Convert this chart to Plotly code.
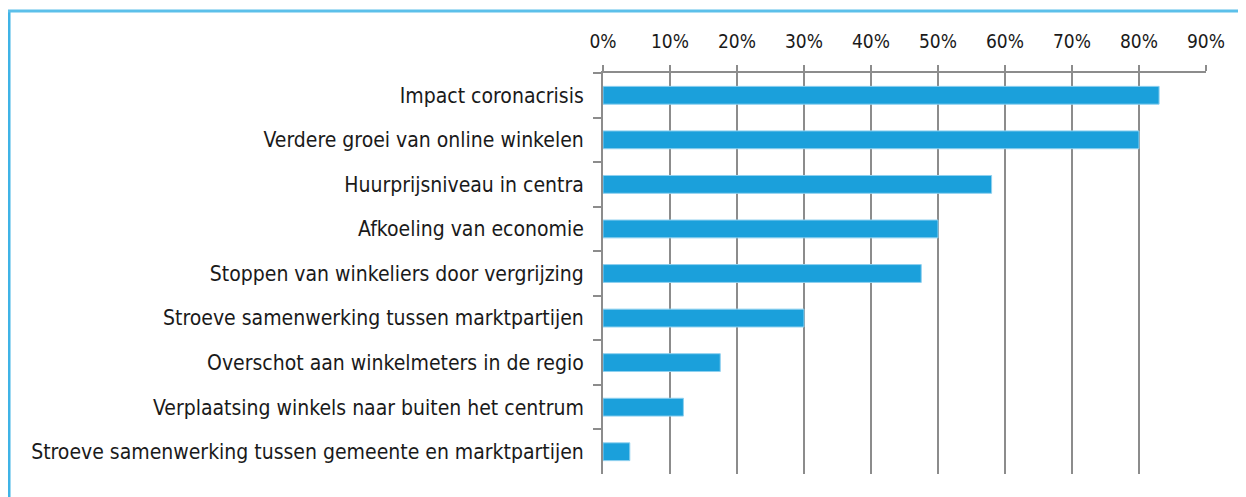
import plotly.graph_objects as go

categories = [
    "Impact coronacrisis",
    "Verdere groei van online winkelen",
    "Huurprijsniveau in centra",
    "Afkoeling van economie",
    "Stoppen van winkeliers door vergrijzing",
    "Stroeve samenwerking tussen marktpartijen",
    "Overschot aan winkelmeters in de regio",
    "Verplaatsing winkels naar buiten het centrum",
    "Stroeve samenwerking tussen gemeente en marktpartijen",
]
values = [83, 80, 58, 50, 47.5, 30, 17.5, 12, 4]
tick_values = [0, 10, 20, 30, 40, 50, 60, 70, 80, 90]
tick_labels = ["0%", "10%", "20%", "30%", "40%", "50%", "60%", "70%", "80%", "90%"]

FONT = "DejaVu Sans Condensed, DejaVu Sans, sans-serif"
GRID = "#8c8c8c"
TEXT = "#1a1a1a"

# the page body adds an 8px offset; figure is sized to fill the rest
W, H = 1238, 489
OFF = 8
L, T = 603 - OFF, 73 - OFF
R = W - (1206 - OFF)
B = H - (474 - OFF)

fig = go.Figure()
fig.add_trace(go.Bar(
    x=values,
    y=categories,
    orientation="h",
    width=0.4,
    marker=dict(color="#1ba0db", line=dict(color="#8fd0ef", width=1)),
    hoverinfo="x+y",
))

fig.update_layout(
    width=W, height=H,
    paper_bgcolor="white", plot_bgcolor="white",
    margin=dict(l=L, r=R, t=T, b=B),
    showlegend=False,
    font=dict(family=FONT, color=TEXT, size=19),
    xaxis=dict(
        side="top", range=[0, 90],
        tickvals=tick_values, ticktext=tick_labels,
        showgrid=True, gridcolor=GRID, gridwidth=2,
        showline=True, linecolor=GRID, linewidth=2,
        ticks="outside", ticklen=6, tickcolor=GRID, tickwidth=2,
        tickfont=dict(family=FONT, size=19, color=TEXT),
        ticklabelstandoff=9,
        zeroline=False, fixedrange=True,
    ),
    yaxis=dict(
        autorange="reversed",
        showline=True, linecolor=GRID, linewidth=2,
        ticks="outside", ticklen=8, tickcolor=GRID, tickwidth=2,
        tickson="boundaries",
        tickfont=dict(family=FONT, size=21, color=TEXT),
        ticklabelstandoff=13,
        showgrid=False, fixedrange=True,
    ),
)

pw = W - L - R
ph = H - T - B
def px_x(px):
    return (px - OFF - L) / pw
def px_y(py):
    return (H - B - (py - OFF)) / ph

fig.add_shape(type="line", xref="paper", yref="paper",
              x0=px_x(9), x1=px_x(9), y0=px_y(500), y1=px_y(11),
              line=dict(color="#3fb3e6", width=3))
fig.add_shape(type="line", xref="paper", yref="paper",
              x0=px_x(8), x1=px_x(1250), y0=px_y(11), y1=px_y(11),
              line=dict(color="#5cc0ea", width=3))

fig.write_html("out.html")
